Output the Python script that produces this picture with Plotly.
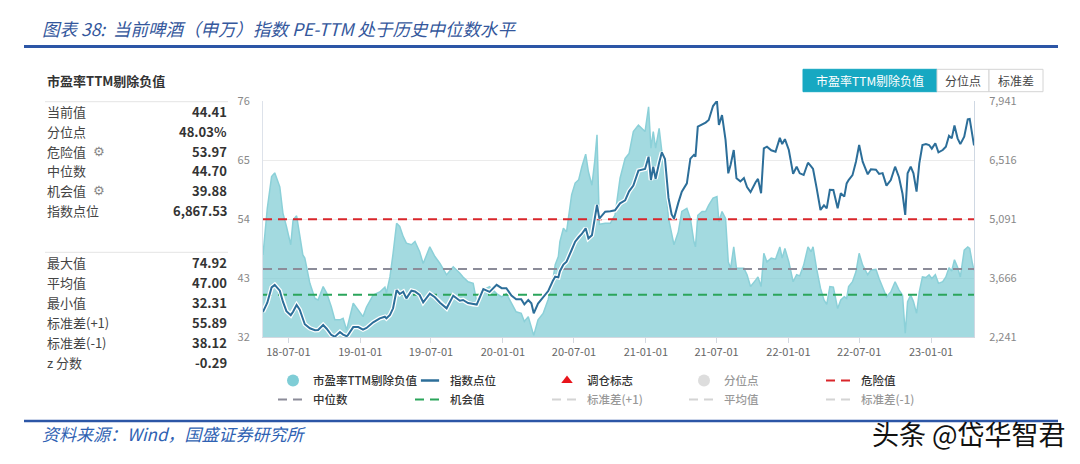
import plotly.graph_objects as go

# ---------------- data ----------------
dates = [
    "2018-04-27", "2018-05-08", "2018-05-19", "2018-05-27", "2018-06-09", "2018-06-17", "2018-06-26",
    "2018-07-07", "2018-07-13", "2018-07-22", "2018-07-30", "2018-08-07", "2018-08-12", "2018-08-25",
    "2018-09-07", "2018-09-15", "2018-09-28", "2018-10-07", "2018-10-19", "2018-10-28", "2018-11-10",
    "2018-11-18", "2018-11-27", "2018-11-30", "2018-12-14", "2018-12-27", "2019-01-08", "2019-01-17",
    "2019-02-03", "2019-02-20", "2019-03-05", "2019-03-09", "2019-03-18", "2019-03-26", "2019-04-04",
    "2019-04-12", "2019-04-21", "2019-04-29", "2019-05-12", "2019-05-21", "2019-06-02", "2019-06-11",
    "2019-06-28", "2019-07-11", "2019-07-24", "2019-08-10", "2019-08-27", "2019-09-13", "2019-09-21",
    "2019-10-04", "2019-10-17", "2019-10-26", "2019-11-12", "2019-11-28", "2019-12-16", "2019-12-29",
    "2020-01-10", "2020-01-23", "2020-02-04", "2020-02-17", "2020-02-25", "2020-03-06", "2020-03-14",
    "2020-03-20", "2020-03-31", "2020-04-13", "2020-04-26", "2020-05-08", "2020-05-14", "2020-05-22",
    "2020-05-26", "2020-06-04", "2020-06-12", "2020-06-25", "2020-07-04", "2020-07-13", "2020-07-21",
    "2020-07-31", "2020-08-07", "2020-08-16", "2020-08-23", "2020-08-29", "2020-09-04", "2020-09-19",
    "2020-10-02", "2020-10-14", "2020-10-27", "2020-11-09", "2020-11-19", "2020-11-30", "2020-12-13",
    "2020-12-22", "2020-12-30", "2021-01-08", "2021-01-14", "2021-01-20", "2021-01-26", "2021-02-04",
    "2021-02-11", "2021-02-19", "2021-02-28", "2021-03-08", "2021-03-14", "2021-03-25", "2021-04-03",
    "2021-04-16", "2021-04-25", "2021-05-04", "2021-05-08", "2021-05-14", "2021-05-25", "2021-06-03",
    "2021-06-11", "2021-06-22", "2021-07-02", "2021-07-07", "2021-07-15", "2021-07-24", "2021-07-31",
    "2021-08-06", "2021-08-14", "2021-08-21", "2021-08-31", "2021-09-09", "2021-09-17", "2021-09-26",
    "2021-10-09", "2021-10-15", "2021-10-23", "2021-10-30", "2021-11-07", "2021-11-18", "2021-11-29",
    "2021-12-10", "2021-12-16", "2021-12-23", "2022-01-02", "2022-01-13", "2022-01-22", "2022-01-30",
    "2022-02-09", "2022-02-20", "2022-02-28", "2022-03-05", "2022-03-14", "2022-03-24", "2022-04-02",
    "2022-04-09", "2022-04-17", "2022-04-26", "2022-05-07", "2022-05-15", "2022-05-24", "2022-05-30",
    "2022-06-04", "2022-06-14", "2022-06-23", "2022-07-01", "2022-07-10", "2022-07-23", "2022-07-31",
    "2022-08-13", "2022-08-21", "2022-08-30", "2022-09-09", "2022-09-20", "2022-10-01", "2022-10-11",
    "2022-10-20", "2022-10-27", "2022-11-02", "2022-11-10", "2022-11-17", "2022-11-25", "2022-12-02",
    "2022-12-10", "2022-12-19", "2022-12-27", "2023-01-03", "2023-01-12", "2023-01-20", "2023-01-31",
    "2023-02-08", "2023-02-16", "2023-02-23", "2023-03-02", "2023-03-10", "2023-03-17", "2023-03-27",
    "2023-04-05", "2023-04-10", "2023-04-17", "2023-04-21",
]

pe_ttm = [
    47.3, 56.0, 61.9, 62.6, 60.0, 55.1, 52.6,
    49.2, 53.8, 54.6, 51.0, 47.3, 46.7, 42.0,
    39.2, 38.9, 41.4, 40.2, 37.6, 35.2, 35.2,
    35.5, 33.3, 34.2, 38.3, 37.0, 35.8, 37.6,
    39.8, 40.4, 41.3, 40.2, 43.2, 47.6, 53.2,
    52.6, 50.7, 49.5, 49.2, 49.8, 47.9, 45.7,
    48.8, 47.0, 45.7, 43.6, 45.1, 43.9, 43.2,
    42.3, 42.0, 38.6, 40.8, 41.4, 40.1, 39.5,
    40.1, 38.3, 36.7, 36.4, 34.9, 35.8, 33.9,
    32.31, 35.2, 36.4, 39.0, 42.6, 45.5, 47.0,
    49.8, 52.3, 51.6, 58.5, 60.7, 61.3, 63.7,
    66.1, 62.8, 60.3, 64.7, 69.7, 53.0, 53.2,
    53.2, 54.7, 61.6, 65.3, 66.2, 70.3, 71.5,
    70.9, 70.3, 74.92, 67.2, 70.3, 67.2, 70.9,
    66.6, 61.6, 54.1, 51.0, 49.2, 51.6, 55.4,
    56.0, 54.1, 49.8, 48.8, 54.7, 55.4, 55.4,
    56.6, 57.9, 58.2, 53.5, 55.4, 54.1, 46.0,
    44.8, 48.8, 44.8, 44.8, 44.8, 43.6, 41.4,
    42.6, 43.2, 41.4, 47.6, 46.0, 46.7, 46.5,
    48.8, 46.7, 48.5, 46.0, 42.3, 43.6, 43.4,
    45.4, 48.8, 47.9, 48.8, 44.8, 41.1, 38.9,
    38.1, 41.4, 41.3, 37.3, 38.9, 39.5, 39.2,
    41.4, 42.3, 44.2, 47.6, 45.4, 43.6, 44.5,
    44.6, 42.9, 41.1, 39.5, 40.4, 42.3, 40.8,
    39.8, 32.7, 38.6, 39.8, 38.6, 36.4, 40.4,
    43.2, 43.1, 43.6, 42.9, 43.6, 42.0, 42.3,
    43.2, 44.9, 44.3, 46.4, 45.0, 43.2, 48.2,
    48.8, 48.5, 45.7, 44.41,
]

index_level = [
    2852, 3070, 3438, 3500, 3360, 3093, 2865,
    2768, 2852, 3014, 2900, 2660, 2550, 2451,
    2405, 2410, 2531, 2440, 2289, 2249, 2360,
    2300, 2260, 2280, 2480, 2480, 2420, 2460,
    2596, 2690, 2730, 2692, 2772, 2934, 3376,
    3280, 3335, 3175, 3360, 3340, 3255, 3080,
    3290, 3200, 3070, 2934, 3240, 3118, 3135,
    3060, 3030, 3025, 3400, 3330, 3500, 3420,
    3420, 3240, 3150, 3155, 3030, 3135, 3055,
    2813, 3050, 3215, 3350, 3600, 3698, 3680,
    3830, 3990, 4060, 4342, 4543, 4650, 4730,
    4866, 4624, 4700, 5108, 5429, 5100, 5268,
    5280, 5300, 5470, 5540, 5760, 5900, 6260,
    6290, 6300, 6596, 6033, 6354, 6060, 6450,
    6700, 6540, 5600, 5200, 5100, 5480, 5750,
    5953, 6550, 6640, 6596, 7321, 7370, 7420,
    7482, 7820, 7941, 7361, 7600, 7000, 6194,
    6400, 6757, 6073, 6000, 6080, 5860, 5740,
    5980, 6060, 5712, 6798, 6838, 6750, 6717,
    7050, 6900, 7020, 6757, 6180, 6354, 6194,
    6154, 6450, 6360, 6300, 5850, 5309, 5420,
    5349, 5795, 5790, 5349, 5712, 5631, 5950,
    6033, 6150, 6480, 6878, 6475, 6170, 6290,
    6280, 6180, 6200, 5896, 6033, 6354, 6100,
    5700, 5188, 6194, 6354, 6194, 5751, 6436,
    6878, 6900, 6878, 6790, 6920, 6702, 6757,
    6838, 7100, 7039, 7350, 7039, 6900, 7079,
    7500, 7510, 7050, 6867.53,
]

danger_value = 53.97
median_value = 44.70
chance_value = 39.88
std_plus_value = 55.89
mean_value = 47.00
std_minus_value = 38.12

x_tick_dates = ["2018-07-01", "2019-01-01", "2019-07-01", "2020-01-01", "2020-07-01",
                "2021-01-01", "2021-07-01", "2022-01-01", "2022-07-01", "2023-01-01"]
left_ticks = [32, 43, 54, 65, 76]
right_ticks = [2241, 3666, 5091, 6516, 7941]

stat_labels_top = ["当前值", "分位点", "危险值", "中位数", "机会值", "指数点位"]
stat_values_top = ["44.41", "48.03%", "53.97", "44.70", "39.88", "6,867.53"]
stat_labels_bottom = ["最大值", "平均值", "最小值", "标准差(+1)", "标准差(-1)", "z 分数"]
stat_values_bottom = ["74.92", "47.00", "32.31", "55.89", "38.12", "-0.29"]

title_text = "图表 38:  当前啤酒（申万）指数 PE-TTM 处于历史中位数水平"
source_text = "资料来源：Wind，国盛证券研究所"
watermark_text = "头条 @岱华智君"
panel_title = "市盈率TTM剔除负值"
button_labels = ["市盈率TTM剔除负值", "分位点", "标准差"]

# ---------------- layout helpers (page pixel coords) ----------------
OFF = 8                      # default body margin of the page
W, H = 1064, 448             # figure size
PL, PR, PT, PB = 263, 974, 101, 337   # plot area in page pixels
FONT = "Noto Sans CJK SC, Microsoft YaHei, sans-serif"
INDEX_COLOR = "#2C6E99"


def fx(x):
    return (x - PL) / (PR - PL)


def fy(y):
    return (PB - y) / (PB - PT)


def label(x, y, s, size=13, color="#333333", xanchor="left", family=FONT):
    return dict(x=fx(x), y=fy(y), xref="paper", yref="paper", text=s, showarrow=False,
                xanchor=xanchor, yanchor="middle", font=dict(size=size, color=color, family=family))


def hline(x0, x1, y, color, width):
    return dict(type="line", xref="paper", yref="paper", x0=fx(x0), x1=fx(x1), y0=fy(y), y1=fy(y),
                line=dict(color=color, width=width), layer="above")


def rect(x0, x1, y0, y1, fill, line):
    return dict(type="rect", xref="paper", yref="paper", x0=fx(x0), x1=fx(x1), y0=fy(y1), y1=fy(y0),
                fillcolor=fill, line=dict(color=line, width=1), layer="above")


# ---------------- traces ----------------
fig = go.Figure()
span = [dates[0], dates[-1]]
DASH = "9px,6px"

fig.add_trace(go.Scatter(x=dates, y=pe_ttm, mode="lines", fill="tozeroy",
                         fillcolor="rgba(120,200,210,0.68)", line=dict(color="#8BD0D8", width=1.5),
                         showlegend=False, hoverinfo="skip"))
fig.add_trace(go.Scatter(x=[None], y=[None], mode="markers", name="市盈率TTM剔除负值",
                         marker=dict(symbol="circle", size=12, color="#7FCDD6"), legendrank=1))
fig.add_trace(go.Scatter(x=[None], y=[None], mode="markers", name="指数点位",
                         marker=dict(symbol="line-ew", size=13, color=INDEX_COLOR,
                                     line=dict(color=INDEX_COLOR, width=2.5)), legendrank=2))
fig.add_trace(go.Scatter(x=[None], y=[None], mode="markers", name="调仓标志",
                         marker=dict(symbol="triangle-up", size=10, color="#E8141B"), legendrank=3))
fig.add_trace(go.Scatter(x=[None], y=[None], mode="markers", name="分位点", visible="legendonly",
                         marker=dict(symbol="circle", size=12, color="#BDBDBD"), legendrank=4))
fig.add_trace(go.Scatter(x=span, y=[danger_value] * 2, mode="lines", name="危险值",
                         line=dict(color="#D9262B", width=2, dash=DASH), legendrank=5))
fig.add_trace(go.Scatter(x=span, y=[median_value] * 2, mode="lines", name="中位数",
                         line=dict(color="#8C8C99", width=2, dash=DASH), legendrank=6))
fig.add_trace(go.Scatter(x=span, y=[chance_value] * 2, mode="lines", name="机会值",
                         line=dict(color="#2BA55B", width=2, dash=DASH), legendrank=7))
fig.add_trace(go.Scatter(x=span, y=[std_plus_value] * 2, mode="lines", name="标准差(+1)",
                         visible="legendonly", line=dict(color="#AAAAAA", width=2, dash=DASH), legendrank=8))
fig.add_trace(go.Scatter(x=span, y=[mean_value] * 2, mode="lines", name="平均值",
                         visible="legendonly", line=dict(color="#AAAAAA", width=2, dash=DASH), legendrank=9))
fig.add_trace(go.Scatter(x=span, y=[std_minus_value] * 2, mode="lines", name="标准差(-1)",
                         visible="legendonly", line=dict(color="#AAAAAA", width=2, dash=DASH), legendrank=10))
fig.add_trace(go.Scatter(x=dates, y=index_level, yaxis="y2", mode="lines", showlegend=False,
                         line=dict(color="white", width=4.5), hoverinfo="skip"))
fig.add_trace(go.Scatter(x=dates, y=index_level, yaxis="y2", mode="lines", name="指数点位",
                         line=dict(color=INDEX_COLOR, width=2), showlegend=False))

# ---------------- annotations & shapes ----------------
ann = []
shapes = []

ann.append(label(40, 29, "<i>" + title_text + "</i>", size=17.5, color="#34579C"))
shapes.append(hline(24, 1058, 46.5, "#2C56A6", 3))
shapes.append(hline(24, 1058, 421, "#2C56A6", 2.5))
ann.append(label(40, 433, "<i>" + source_text + "</i>", size=17, color="#2F62B3"))
ann.append(label(969, 433, watermark_text, size=27, color="#111111", xanchor="center"))

ann.append(label(45, 80, "<b>" + panel_title + "</b>", size=13, color="#333333"))
shapes.append(hline(45, 228, 101.7, "#E4E4E4", 1))
shapes.append(hline(45, 228, 252.3, "#E4E4E4", 1))
top_rows = [111.7, 131.3, 151, 170.7, 190.3, 210]
bottom_rows = [262.3, 282.3, 302.3, 322.3, 342.3, 362.3]
for lab, val, y in zip(stat_labels_top, stat_values_top, top_rows):
    ann.append(label(45, y, lab, size=13, color="#444444"))
    ann.append(label(229, y, "<b>" + val + "</b>", size=13, color="#333333", xanchor="right"))
for y in (151, 190.3):
    ann.append(label(91, y, "⚙", size=13, color="#888888", family="DejaVu Sans"))
for lab, val, y in zip(stat_labels_bottom, stat_values_bottom, bottom_rows):
    ann.append(label(45, y, lab, size=13, color="#444444"))
    ann.append(label(229, y, "<b>" + val + "</b>", size=13, color="#333333", xanchor="right"))

# buttons
btn_edges = [803, 937, 989, 1043]
for i, txt in enumerate(button_labels):
    active = i == 0
    shapes.append(rect(btn_edges[i], btn_edges[i + 1], 69.3, 91.7,
                       "#17A8C2" if active else "white", "#17A8C2" if active else "#D4D4D4"))
    ann.append(label((btn_edges[i] + btn_edges[i + 1]) / 2, 80.5, txt, size=12,
                     color="white" if active else "#444444", xanchor="center"))

fig.update_layout(
    width=W, height=H,
    margin=dict(l=PL - OFF, r=W - (PR - OFF), t=PT - OFF, b=H - (PB - OFF), autoexpand=False),
    paper_bgcolor="white", plot_bgcolor="white",
    font=dict(family=FONT, size=12, color="#333333"),
    xaxis=dict(type="date", range=span, tickvals=x_tick_dates, tickformat="%y-%m-%d",
               ticks="outside", ticklen=5, tickcolor="#D3D8E0", showline=True, linecolor="#D3D8E0",
               showgrid=False, zeroline=False, tickfont=dict(size=11, color="#666666")),
    yaxis=dict(range=[32, 76], tickvals=left_ticks, showgrid=True, gridcolor="#EBEBEB",
               showline=True, linecolor="#DDE2EA", zeroline=False, ticks="",
               tickfont=dict(size=11, color="#888888"), ticklabelstandoff=10),
    yaxis2=dict(overlaying="y", side="right", range=[2241, 7941], tickvals=right_ticks,
                tickformat=",d", showgrid=False, showline=True, linecolor="#CFD8E3",
                zeroline=False, ticks="", tickfont=dict(size=11, color="#888888"),
                ticklabelstandoff=12),
    legend=dict(orientation="h", x=fx(273), y=fy(366), xanchor="left", yanchor="top",
                entrywidth=92, itemwidth=30, font=dict(size=11.5, color="#333333", weight=500),
                bgcolor="rgba(0,0,0,0)", traceorder="normal"),
    annotations=ann, shapes=shapes, showlegend=True,
)

fig.write_html("out.html")
